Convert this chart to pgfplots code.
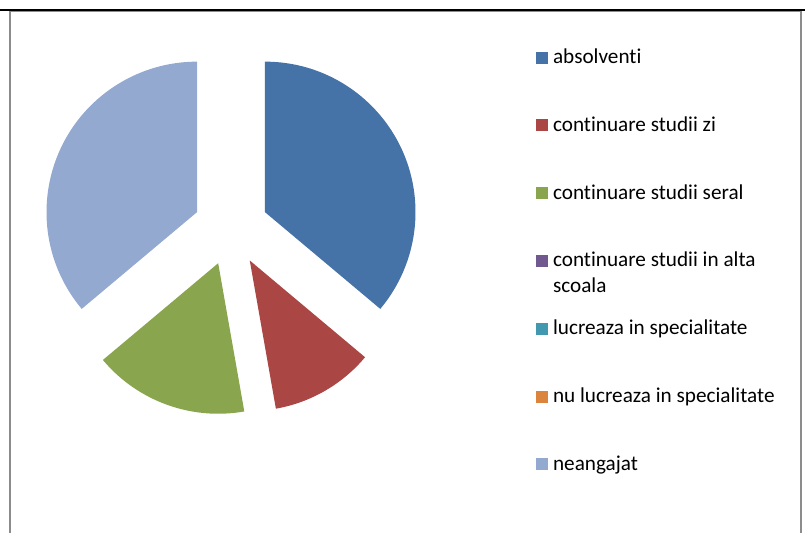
\documentclass[border=0pt]{standalone}
\usepackage{fontspec}
\setmainfont{Carlito}[Ligatures={NoCommon}]
\usepackage{pgfplots}
\pgfplotsset{compat=1.18}

% Excel 2007 chart palette
\definecolor{cA}{HTML}{4572A7}
\definecolor{cB}{HTML}{AA4643}
\definecolor{cC}{HTML}{89A54E}
\definecolor{cD}{HTML}{71588F}
\definecolor{cE}{HTML}{4198AF}
\definecolor{cF}{HTML}{DB843D}
\definecolor{cG}{HTML}{93A9CF}
\definecolor{framegray}{RGB}{140,140,140}

\def\total{36}

\begin{document}
\begin{tikzpicture}
\useasboundingbox (0,0) rectangle (603.75pt,399pt);
\begin{axis}[
    at={(0,0)}, anchor=origin,
    x=0.75pt, y=0.75pt,
    xmin=0, xmax=805, ymin=0, ymax=532,
    hide axis, clip=false,
    legend image code/.code={\fill[#1,draw=none] (0pt,0pt) rectangle (9pt,9pt);},
    legend style={
        draw=none, fill=none, inner sep=0pt,
        at={(0.66584,0.91109)}, anchor=north west,
        font=\fontsize{15.9pt}{19.5pt}\selectfont,
        row sep=34.85pt, column sep=3.6pt,
        cells={anchor=base west},
        nodes={inner sep=0pt, text height=12pt, text depth=4pt},
    },
]
% frame
\draw[framegray, line width=1.2pt] (axis cs:10,-10) -- (axis cs:10,520.5) -- (axis cs:801,520.5) -- (axis cs:801,-10);
\draw[black, line width=1.5pt] (axis cs:0,522) -- (axis cs:805,522);

% exploded pie, values in order of the legend
\pgfplotsextra{
    \gdef\cum{0}
    \foreach \v/\c in {13/cA,4/cB,6/cC,0/cD,0/cE,0/cF,13/cG} {
        \pgfmathsetmacro{\aS}{90-\cum*360/\total}
        \pgfmathsetmacro{\aE}{\aS-\v*360/\total}
        \pgfmathsetmacro{\aM}{(\aS+\aE)/2}
        \pgfmathsetmacro{\px}{231+37.5*cos(\aM)}
        \pgfmathsetmacro{\py}{304+37.5*sin(\aM)}
        \ifdim\v pt>0pt
            \fill[\c] (axis cs:\px,\py) -- ++(\aS:112.875pt)
                arc[start angle=\aS, end angle=\aE, radius=112.875pt] -- cycle;
        \fi
        \pgfmathsetmacro{\nc}{\cum+\v}
        \xdef\cum{\nc}
    }
}

\addlegendimage{fill=cA}\addlegendentry{absolventi}
\addlegendimage{fill=cB}\addlegendentry{continuare studii zi}
\addlegendimage{fill=cC}\addlegendentry{continuare studii seral}
\addlegendimage{fill=cD}\addlegendentry{\rlap{\raisebox{-19.5pt}[0pt][0pt]{scoala}}continuare studii in alta}
\addlegendimage{fill=cE}\addlegendentry{lucreaza in specialitate}
\addlegendimage{fill=cF}\addlegendentry{nu lucreaza in specialitate}
\addlegendimage{fill=cG}\addlegendentry{neangajat}
\end{axis}
\end{tikzpicture}
\end{document}
